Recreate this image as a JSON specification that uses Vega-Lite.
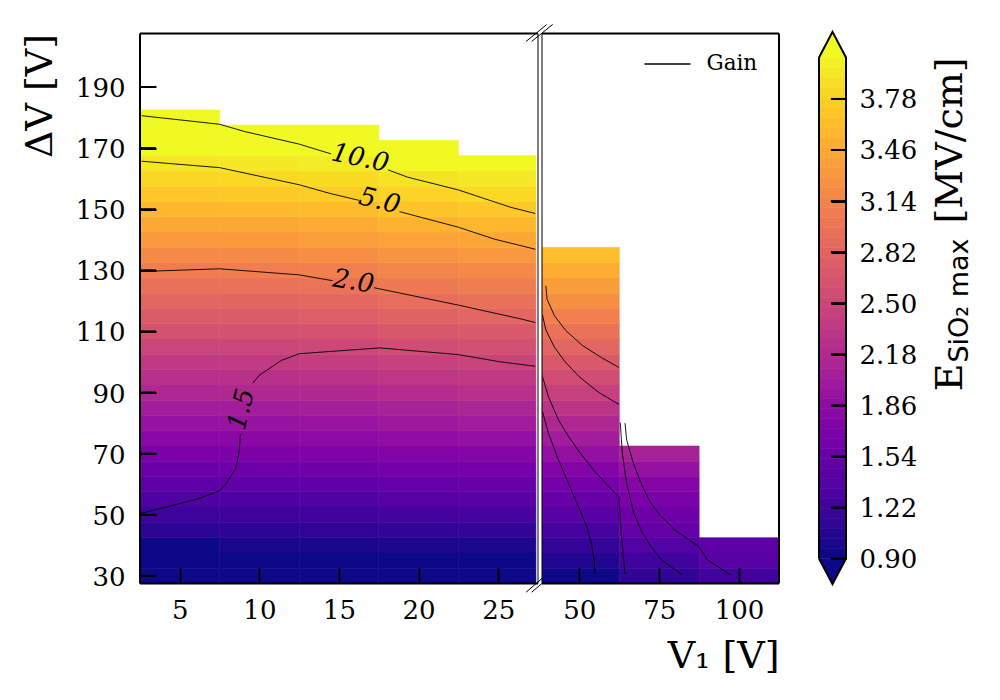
{"$schema":"https://vega.github.io/schema/vega-lite/v6.json","background":"white","autosize":{"type":"pad"},"padding":{"left":21,"top":23.5,"right":5,"bottom":5},
"config":{"view":{"stroke":null},"axis":{"labelFont":"DejaVu Serif","titleFont":"DejaVu Serif","labelFontSize":26,"titleFontSize":38,"titleFontWeight":"normal","labelColor":"black","titleColor":"black","tickColor":"black","tickWidth":2,"tickSize":-16,"domain":false,"grid":false}},
"datasets":{
"left":[
{"V1lo":2.5,"V1hi":7.5,"dVlo":27.5,"dVhi":32.5,"E":0.9},{"V1lo":2.5,"V1hi":7.5,"dVlo":32.5,"dVhi":37.5,"E":0.9},{"V1lo":2.5,"V1hi":7.5,"dVlo":37.5,"dVhi":42.5,"E":0.9},{"V1lo":2.5,"V1hi":7.5,"dVlo":42.5,"dVhi":47.5,"E":1.07},{"V1lo":2.5,"V1hi":7.5,"dVlo":47.5,"dVhi":52.5,"E":1.18},{"V1lo":2.5,"V1hi":7.5,"dVlo":52.5,"dVhi":57.5,"E":1.3},{"V1lo":2.5,"V1hi":7.5,"dVlo":57.5,"dVhi":62.5,"E":1.42},{"V1lo":2.5,"V1hi":7.5,"dVlo":62.5,"dVhi":67.5,"E":1.54},{"V1lo":2.5,"V1hi":7.5,"dVlo":67.5,"dVhi":72.5,"E":1.66},{"V1lo":2.5,"V1hi":7.5,"dVlo":72.5,"dVhi":77.5,"E":1.78},{"V1lo":2.5,"V1hi":7.5,"dVlo":77.5,"dVhi":82.5,"E":1.89},{"V1lo":2.5,"V1hi":7.5,"dVlo":82.5,"dVhi":87.5,"E":2.0},{"V1lo":2.5,"V1hi":7.5,"dVlo":87.5,"dVhi":92.5,"E":2.12},{"V1lo":2.5,"V1hi":7.5,"dVlo":92.5,"dVhi":97.5,"E":2.22},{"V1lo":2.5,"V1hi":7.5,"dVlo":97.5,"dVhi":102.5,"E":2.33},{"V1lo":2.5,"V1hi":7.5,"dVlo":102.5,"dVhi":107.5,"E":2.45},{"V1lo":2.5,"V1hi":7.5,"dVlo":107.5,"dVhi":112.5,"E":2.57},{"V1lo":2.5,"V1hi":7.5,"dVlo":112.5,"dVhi":117.5,"E":2.69},{"V1lo":2.5,"V1hi":7.5,"dVlo":117.5,"dVhi":122.5,"E":2.8},{"V1lo":2.5,"V1hi":7.5,"dVlo":122.5,"dVhi":127.5,"E":2.92},{"V1lo":2.5,"V1hi":7.5,"dVlo":127.5,"dVhi":132.5,"E":3.04},{"V1lo":2.5,"V1hi":7.5,"dVlo":132.5,"dVhi":137.5,"E":3.17},{"V1lo":2.5,"V1hi":7.5,"dVlo":137.5,"dVhi":142.5,"E":3.3},{"V1lo":2.5,"V1hi":7.5,"dVlo":142.5,"dVhi":147.5,"E":3.43},{"V1lo":2.5,"V1hi":7.5,"dVlo":147.5,"dVhi":152.5,"E":3.56},{"V1lo":2.5,"V1hi":7.5,"dVlo":152.5,"dVhi":157.5,"E":3.68},{"V1lo":2.5,"V1hi":7.5,"dVlo":157.5,"dVhi":162.5,"E":3.79},{"V1lo":2.5,"V1hi":7.5,"dVlo":162.5,"dVhi":167.5,"E":3.91},{"V1lo":2.5,"V1hi":7.5,"dVlo":167.5,"dVhi":172.5,"E":4.1},{"V1lo":2.5,"V1hi":7.5,"dVlo":172.5,"dVhi":177.5,"E":4.1},{"V1lo":2.5,"V1hi":7.5,"dVlo":177.5,"dVhi":182.5,"E":4.1},
{"V1lo":7.5,"V1hi":12.5,"dVlo":27.5,"dVhi":32.5,"E":0.9},{"V1lo":7.5,"V1hi":12.5,"dVlo":32.5,"dVhi":37.5,"E":0.9},{"V1lo":7.5,"V1hi":12.5,"dVlo":37.5,"dVhi":42.5,"E":0.96},{"V1lo":7.5,"V1hi":12.5,"dVlo":42.5,"dVhi":47.5,"E":1.07},{"V1lo":7.5,"V1hi":12.5,"dVlo":47.5,"dVhi":52.5,"E":1.19},{"V1lo":7.5,"V1hi":12.5,"dVlo":52.5,"dVhi":57.5,"E":1.31},{"V1lo":7.5,"V1hi":12.5,"dVlo":57.5,"dVhi":62.5,"E":1.43},{"V1lo":7.5,"V1hi":12.5,"dVlo":62.5,"dVhi":67.5,"E":1.55},{"V1lo":7.5,"V1hi":12.5,"dVlo":67.5,"dVhi":72.5,"E":1.67},{"V1lo":7.5,"V1hi":12.5,"dVlo":72.5,"dVhi":77.5,"E":1.79},{"V1lo":7.5,"V1hi":12.5,"dVlo":77.5,"dVhi":82.5,"E":1.9},{"V1lo":7.5,"V1hi":12.5,"dVlo":82.5,"dVhi":87.5,"E":2.01},{"V1lo":7.5,"V1hi":12.5,"dVlo":87.5,"dVhi":92.5,"E":2.13},{"V1lo":7.5,"V1hi":12.5,"dVlo":92.5,"dVhi":97.5,"E":2.23},{"V1lo":7.5,"V1hi":12.5,"dVlo":97.5,"dVhi":102.5,"E":2.34},{"V1lo":7.5,"V1hi":12.5,"dVlo":102.5,"dVhi":107.5,"E":2.46},{"V1lo":7.5,"V1hi":12.5,"dVlo":107.5,"dVhi":112.5,"E":2.58},{"V1lo":7.5,"V1hi":12.5,"dVlo":112.5,"dVhi":117.5,"E":2.7},{"V1lo":7.5,"V1hi":12.5,"dVlo":117.5,"dVhi":122.5,"E":2.81},{"V1lo":7.5,"V1hi":12.5,"dVlo":122.5,"dVhi":127.5,"E":2.93},{"V1lo":7.5,"V1hi":12.5,"dVlo":127.5,"dVhi":132.5,"E":3.05},{"V1lo":7.5,"V1hi":12.5,"dVlo":132.5,"dVhi":137.5,"E":3.18},{"V1lo":7.5,"V1hi":12.5,"dVlo":137.5,"dVhi":142.5,"E":3.31},{"V1lo":7.5,"V1hi":12.5,"dVlo":142.5,"dVhi":147.5,"E":3.44},{"V1lo":7.5,"V1hi":12.5,"dVlo":147.5,"dVhi":152.5,"E":3.57},{"V1lo":7.5,"V1hi":12.5,"dVlo":152.5,"dVhi":157.5,"E":3.69},{"V1lo":7.5,"V1hi":12.5,"dVlo":157.5,"dVhi":162.5,"E":3.8},{"V1lo":7.5,"V1hi":12.5,"dVlo":162.5,"dVhi":167.5,"E":3.93},{"V1lo":7.5,"V1hi":12.5,"dVlo":167.5,"dVhi":172.5,"E":4.1},{"V1lo":7.5,"V1hi":12.5,"dVlo":172.5,"dVhi":177.5,"E":4.1},
{"V1lo":12.5,"V1hi":17.5,"dVlo":27.5,"dVhi":32.5,"E":0.9},{"V1lo":12.5,"V1hi":17.5,"dVlo":32.5,"dVhi":37.5,"E":0.9},{"V1lo":12.5,"V1hi":17.5,"dVlo":37.5,"dVhi":42.5,"E":0.96},{"V1lo":12.5,"V1hi":17.5,"dVlo":42.5,"dVhi":47.5,"E":1.09},{"V1lo":12.5,"V1hi":17.5,"dVlo":47.5,"dVhi":52.5,"E":1.21},{"V1lo":12.5,"V1hi":17.5,"dVlo":52.5,"dVhi":57.5,"E":1.33},{"V1lo":12.5,"V1hi":17.5,"dVlo":57.5,"dVhi":62.5,"E":1.45},{"V1lo":12.5,"V1hi":17.5,"dVlo":62.5,"dVhi":67.5,"E":1.57},{"V1lo":12.5,"V1hi":17.5,"dVlo":67.5,"dVhi":72.5,"E":1.69},{"V1lo":12.5,"V1hi":17.5,"dVlo":72.5,"dVhi":77.5,"E":1.81},{"V1lo":12.5,"V1hi":17.5,"dVlo":77.5,"dVhi":82.5,"E":1.92},{"V1lo":12.5,"V1hi":17.5,"dVlo":82.5,"dVhi":87.5,"E":2.03},{"V1lo":12.5,"V1hi":17.5,"dVlo":87.5,"dVhi":92.5,"E":2.15},{"V1lo":12.5,"V1hi":17.5,"dVlo":92.5,"dVhi":97.5,"E":2.25},{"V1lo":12.5,"V1hi":17.5,"dVlo":97.5,"dVhi":102.5,"E":2.36},{"V1lo":12.5,"V1hi":17.5,"dVlo":102.5,"dVhi":107.5,"E":2.48},{"V1lo":12.5,"V1hi":17.5,"dVlo":107.5,"dVhi":112.5,"E":2.6},{"V1lo":12.5,"V1hi":17.5,"dVlo":112.5,"dVhi":117.5,"E":2.72},{"V1lo":12.5,"V1hi":17.5,"dVlo":117.5,"dVhi":122.5,"E":2.83},{"V1lo":12.5,"V1hi":17.5,"dVlo":122.5,"dVhi":127.5,"E":2.95},{"V1lo":12.5,"V1hi":17.5,"dVlo":127.5,"dVhi":132.5,"E":3.07},{"V1lo":12.5,"V1hi":17.5,"dVlo":132.5,"dVhi":137.5,"E":3.2},{"V1lo":12.5,"V1hi":17.5,"dVlo":137.5,"dVhi":142.5,"E":3.33},{"V1lo":12.5,"V1hi":17.5,"dVlo":142.5,"dVhi":147.5,"E":3.46},{"V1lo":12.5,"V1hi":17.5,"dVlo":147.5,"dVhi":152.5,"E":3.59},{"V1lo":12.5,"V1hi":17.5,"dVlo":152.5,"dVhi":157.5,"E":3.71},{"V1lo":12.5,"V1hi":17.5,"dVlo":157.5,"dVhi":162.5,"E":3.82},{"V1lo":12.5,"V1hi":17.5,"dVlo":162.5,"dVhi":167.5,"E":3.95},{"V1lo":12.5,"V1hi":17.5,"dVlo":167.5,"dVhi":172.5,"E":4.1},{"V1lo":12.5,"V1hi":17.5,"dVlo":172.5,"dVhi":177.5,"E":4.1},
{"V1lo":17.5,"V1hi":22.5,"dVlo":27.5,"dVhi":32.5,"E":0.9},{"V1lo":17.5,"V1hi":22.5,"dVlo":32.5,"dVhi":37.5,"E":0.9},{"V1lo":17.5,"V1hi":22.5,"dVlo":37.5,"dVhi":42.5,"E":0.97},{"V1lo":17.5,"V1hi":22.5,"dVlo":42.5,"dVhi":47.5,"E":1.1},{"V1lo":17.5,"V1hi":22.5,"dVlo":47.5,"dVhi":52.5,"E":1.23},{"V1lo":17.5,"V1hi":22.5,"dVlo":52.5,"dVhi":57.5,"E":1.36},{"V1lo":17.5,"V1hi":22.5,"dVlo":57.5,"dVhi":62.5,"E":1.48},{"V1lo":17.5,"V1hi":22.5,"dVlo":62.5,"dVhi":67.5,"E":1.6},{"V1lo":17.5,"V1hi":22.5,"dVlo":67.5,"dVhi":72.5,"E":1.72},{"V1lo":17.5,"V1hi":22.5,"dVlo":72.5,"dVhi":77.5,"E":1.84},{"V1lo":17.5,"V1hi":22.5,"dVlo":77.5,"dVhi":82.5,"E":1.96},{"V1lo":17.5,"V1hi":22.5,"dVlo":82.5,"dVhi":87.5,"E":2.07},{"V1lo":17.5,"V1hi":22.5,"dVlo":87.5,"dVhi":92.5,"E":2.19},{"V1lo":17.5,"V1hi":22.5,"dVlo":92.5,"dVhi":97.5,"E":2.3},{"V1lo":17.5,"V1hi":22.5,"dVlo":97.5,"dVhi":102.5,"E":2.41},{"V1lo":17.5,"V1hi":22.5,"dVlo":102.5,"dVhi":107.5,"E":2.53},{"V1lo":17.5,"V1hi":22.5,"dVlo":107.5,"dVhi":112.5,"E":2.65},{"V1lo":17.5,"V1hi":22.5,"dVlo":112.5,"dVhi":117.5,"E":2.77},{"V1lo":17.5,"V1hi":22.5,"dVlo":117.5,"dVhi":122.5,"E":2.88},{"V1lo":17.5,"V1hi":22.5,"dVlo":122.5,"dVhi":127.5,"E":3.0},{"V1lo":17.5,"V1hi":22.5,"dVlo":127.5,"dVhi":132.5,"E":3.12},{"V1lo":17.5,"V1hi":22.5,"dVlo":132.5,"dVhi":137.5,"E":3.25},{"V1lo":17.5,"V1hi":22.5,"dVlo":137.5,"dVhi":142.5,"E":3.38},{"V1lo":17.5,"V1hi":22.5,"dVlo":142.5,"dVhi":147.5,"E":3.52},{"V1lo":17.5,"V1hi":22.5,"dVlo":147.5,"dVhi":152.5,"E":3.65},{"V1lo":17.5,"V1hi":22.5,"dVlo":152.5,"dVhi":157.5,"E":3.77},{"V1lo":17.5,"V1hi":22.5,"dVlo":157.5,"dVhi":162.5,"E":3.88},{"V1lo":17.5,"V1hi":22.5,"dVlo":162.5,"dVhi":167.5,"E":4.1},{"V1lo":17.5,"V1hi":22.5,"dVlo":167.5,"dVhi":172.5,"E":4.1},
{"V1lo":22.5,"V1hi":27.37,"dVlo":27.5,"dVhi":32.5,"E":0.9},{"V1lo":22.5,"V1hi":27.37,"dVlo":32.5,"dVhi":37.5,"E":0.9},{"V1lo":22.5,"V1hi":27.37,"dVlo":37.5,"dVhi":42.5,"E":0.97},{"V1lo":22.5,"V1hi":27.37,"dVlo":42.5,"dVhi":47.5,"E":1.11},{"V1lo":22.5,"V1hi":27.37,"dVlo":47.5,"dVhi":52.5,"E":1.25},{"V1lo":22.5,"V1hi":27.37,"dVlo":52.5,"dVhi":57.5,"E":1.38},{"V1lo":22.5,"V1hi":27.37,"dVlo":57.5,"dVhi":62.5,"E":1.5},{"V1lo":22.5,"V1hi":27.37,"dVlo":62.5,"dVhi":67.5,"E":1.62},{"V1lo":22.5,"V1hi":27.37,"dVlo":67.5,"dVhi":72.5,"E":1.75},{"V1lo":22.5,"V1hi":27.37,"dVlo":72.5,"dVhi":77.5,"E":1.87},{"V1lo":22.5,"V1hi":27.37,"dVlo":77.5,"dVhi":82.5,"E":1.99},{"V1lo":22.5,"V1hi":27.37,"dVlo":82.5,"dVhi":87.5,"E":2.1},{"V1lo":22.5,"V1hi":27.37,"dVlo":87.5,"dVhi":92.5,"E":2.22},{"V1lo":22.5,"V1hi":27.37,"dVlo":92.5,"dVhi":97.5,"E":2.33},{"V1lo":22.5,"V1hi":27.37,"dVlo":97.5,"dVhi":102.5,"E":2.44},{"V1lo":22.5,"V1hi":27.37,"dVlo":102.5,"dVhi":107.5,"E":2.56},{"V1lo":22.5,"V1hi":27.37,"dVlo":107.5,"dVhi":112.5,"E":2.68},{"V1lo":22.5,"V1hi":27.37,"dVlo":112.5,"dVhi":117.5,"E":2.8},{"V1lo":22.5,"V1hi":27.37,"dVlo":117.5,"dVhi":122.5,"E":2.92},{"V1lo":22.5,"V1hi":27.37,"dVlo":122.5,"dVhi":127.5,"E":3.04},{"V1lo":22.5,"V1hi":27.37,"dVlo":127.5,"dVhi":132.5,"E":3.16},{"V1lo":22.5,"V1hi":27.37,"dVlo":132.5,"dVhi":137.5,"E":3.29},{"V1lo":22.5,"V1hi":27.37,"dVlo":137.5,"dVhi":142.5,"E":3.42},{"V1lo":22.5,"V1hi":27.37,"dVlo":142.5,"dVhi":147.5,"E":3.55},{"V1lo":22.5,"V1hi":27.37,"dVlo":147.5,"dVhi":152.5,"E":3.68},{"V1lo":22.5,"V1hi":27.37,"dVlo":152.5,"dVhi":157.5,"E":3.8},{"V1lo":22.5,"V1hi":27.37,"dVlo":157.5,"dVhi":162.5,"E":3.93},{"V1lo":22.5,"V1hi":27.37,"dVlo":162.5,"dVhi":167.5,"E":4.1}
],
"right":[
{"V1lo":37.5,"V1hi":62.5,"dVlo":27.5,"dVhi":32.5,"E":0.9},{"V1lo":37.5,"V1hi":62.5,"dVlo":32.5,"dVhi":37.5,"E":1.0},{"V1lo":37.5,"V1hi":62.5,"dVlo":37.5,"dVhi":42.5,"E":1.12},{"V1lo":37.5,"V1hi":62.5,"dVlo":42.5,"dVhi":47.5,"E":1.25},{"V1lo":37.5,"V1hi":62.5,"dVlo":47.5,"dVhi":52.5,"E":1.38},{"V1lo":37.5,"V1hi":62.5,"dVlo":52.5,"dVhi":57.5,"E":1.5},{"V1lo":37.5,"V1hi":62.5,"dVlo":57.5,"dVhi":62.5,"E":1.62},{"V1lo":37.5,"V1hi":62.5,"dVlo":62.5,"dVhi":67.5,"E":1.74},{"V1lo":37.5,"V1hi":62.5,"dVlo":67.5,"dVhi":72.5,"E":1.87},{"V1lo":37.5,"V1hi":62.5,"dVlo":72.5,"dVhi":77.5,"E":2.0},{"V1lo":37.5,"V1hi":62.5,"dVlo":77.5,"dVhi":82.5,"E":2.13},{"V1lo":37.5,"V1hi":62.5,"dVlo":82.5,"dVhi":87.5,"E":2.27},{"V1lo":37.5,"V1hi":62.5,"dVlo":87.5,"dVhi":92.5,"E":2.4},{"V1lo":37.5,"V1hi":62.5,"dVlo":92.5,"dVhi":97.5,"E":2.53},{"V1lo":37.5,"V1hi":62.5,"dVlo":97.5,"dVhi":102.5,"E":2.66},{"V1lo":37.5,"V1hi":62.5,"dVlo":102.5,"dVhi":107.5,"E":2.8},{"V1lo":37.5,"V1hi":62.5,"dVlo":107.5,"dVhi":112.5,"E":2.93},{"V1lo":37.5,"V1hi":62.5,"dVlo":112.5,"dVhi":117.5,"E":3.07},{"V1lo":37.5,"V1hi":62.5,"dVlo":117.5,"dVhi":122.5,"E":3.2},{"V1lo":37.5,"V1hi":62.5,"dVlo":122.5,"dVhi":127.5,"E":3.33},{"V1lo":37.5,"V1hi":62.5,"dVlo":127.5,"dVhi":132.5,"E":3.47},{"V1lo":37.5,"V1hi":62.5,"dVlo":132.5,"dVhi":137.5,"E":3.6},
{"V1lo":62.5,"V1hi":87.5,"dVlo":27.5,"dVhi":32.5,"E":1.09},{"V1lo":62.5,"V1hi":87.5,"dVlo":32.5,"dVhi":37.5,"E":1.21},{"V1lo":62.5,"V1hi":87.5,"dVlo":37.5,"dVhi":42.5,"E":1.34},{"V1lo":62.5,"V1hi":87.5,"dVlo":42.5,"dVhi":47.5,"E":1.47},{"V1lo":62.5,"V1hi":87.5,"dVlo":47.5,"dVhi":52.5,"E":1.56},{"V1lo":62.5,"V1hi":87.5,"dVlo":52.5,"dVhi":57.5,"E":1.65},{"V1lo":62.5,"V1hi":87.5,"dVlo":57.5,"dVhi":62.5,"E":1.75},{"V1lo":62.5,"V1hi":87.5,"dVlo":62.5,"dVhi":67.5,"E":1.88},{"V1lo":62.5,"V1hi":87.5,"dVlo":67.5,"dVhi":72.5,"E":2.06},
{"V1lo":87.5,"V1hi":112.5,"dVlo":27.5,"dVhi":32.5,"E":1.2},{"V1lo":87.5,"V1hi":112.5,"dVlo":32.5,"dVhi":37.5,"E":1.38},{"V1lo":87.5,"V1hi":112.5,"dVlo":37.5,"dVhi":42.5,"E":1.42}
],
"contourLeft":[
{"seg":"10a","V1":2.6,"dV":180.6},{"seg":"10a","V1":7.5,"dV":177.8},{"seg":"10a","V1":9.08,"dV":175.4},{"seg":"10a","V1":12.5,"dV":171.3},{"seg":"10a","V1":14.5,"dV":168.1},
{"seg":"10b","V1":18.07,"dV":162.9},{"seg":"10b","V1":19.3,"dV":160.5},{"seg":"10b","V1":22.5,"dV":156.3},{"seg":"10b","V1":25.8,"dV":150.6},{"seg":"10b","V1":27.33,"dV":148.6},
{"seg":"5a","V1":2.6,"dV":165.7},{"seg":"5a","V1":7.5,"dV":163.6},{"seg":"5a","V1":12.5,"dV":158.0},{"seg":"5a","V1":14.4,"dV":155.2},{"seg":"5a","V1":16.25,"dV":152.9},
{"seg":"5b","V1":18.8,"dV":149.2},{"seg":"5b","V1":22.5,"dV":144.1},{"seg":"5b","V1":24.76,"dV":140.2},{"seg":"5b","V1":27.33,"dV":136.9},
{"seg":"2a","V1":2.6,"dV":129.6},{"seg":"2a","V1":7.5,"dV":130.5},{"seg":"2a","V1":12.5,"dV":128.5},{"seg":"2a","V1":14.6,"dV":126.6},
{"seg":"2b","V1":17.2,"dV":124.3},{"seg":"2b","V1":22.5,"dV":118.6},{"seg":"2b","V1":26.5,"dV":114.0},{"seg":"2b","V1":27.33,"dV":112.9},
{"seg":"1.5a","V1":2.6,"dV":50.5},{"seg":"1.5a","V1":6.16,"dV":55.2},{"seg":"1.5a","V1":7.5,"dV":57.9},{"seg":"1.5a","V1":7.93,"dV":60.3},{"seg":"1.5a","V1":8.52,"dV":65.2},{"seg":"1.5a","V1":8.73,"dV":70.7},{"seg":"1.5a","V1":8.81,"dV":76.4},
{"seg":"1.5b","V1":9.6,"dV":93.1},{"seg":"1.5b","V1":9.98,"dV":95.6},{"seg":"1.5b","V1":11.38,"dV":100.5},{"seg":"1.5b","V1":12.5,"dV":102.7},{"seg":"1.5b","V1":17.55,"dV":104.6},{"seg":"1.5b","V1":22.5,"dV":102.4},{"seg":"1.5b","V1":25.07,"dV":100.1},{"seg":"1.5b","V1":27.33,"dV":98.6}
],
"contourRight":[
{"name":"Gain","seg":"A","V1":39.49,"dV":124.9},{"name":"Gain","seg":"A","V1":39.9,"dV":120.5},{"name":"Gain","seg":"A","V1":42.2,"dV":115.1},{"name":"Gain","seg":"A","V1":45.74,"dV":110.3},{"name":"Gain","seg":"A","V1":50.95,"dV":105.4},{"name":"Gain","seg":"A","V1":56.99,"dV":101.4},{"name":"Gain","seg":"A","V1":62.4,"dV":98.2},
{"name":"Gain","seg":"B","V1":38.45,"dV":115.4},{"name":"Gain","seg":"B","V1":39.5,"dV":110.5},{"name":"Gain","seg":"B","V1":42.2,"dV":104.8},{"name":"Gain","seg":"B","V1":45.5,"dV":100.1},{"name":"Gain","seg":"B","V1":49.9,"dV":95.2},{"name":"Gain","seg":"B","V1":55.95,"dV":90.1},{"name":"Gain","seg":"B","V1":62.4,"dV":86.1},
{"name":"Gain","seg":"C","V1":38.45,"dV":95.2},{"name":"Gain","seg":"C","V1":40.3,"dV":88.7},{"name":"Gain","seg":"C","V1":43.45,"dV":81.0},{"name":"Gain","seg":"C","V1":46.6,"dV":75.6},{"name":"Gain","seg":"C","V1":50.7,"dV":69.6},{"name":"Gain","seg":"C","V1":54.9,"dV":64.1},{"name":"Gain","seg":"C","V1":62.4,"dV":55.7},{"name":"Gain","seg":"C","V1":63.0,"dV":45.0},{"name":"Gain","seg":"C","V1":64.3,"dV":30.5},
{"name":"Gain","seg":"D","V1":38.45,"dV":83.8},{"name":"Gain","seg":"D","V1":40.3,"dV":76.7},{"name":"Gain","seg":"D","V1":43.45,"dV":68.0},{"name":"Gain","seg":"D","V1":46.6,"dV":60.3},{"name":"Gain","seg":"D","V1":49.7,"dV":52.7},{"name":"Gain","seg":"D","V1":52.3,"dV":46.1},{"name":"Gain","seg":"D","V1":53.9,"dV":40.1},{"name":"Gain","seg":"D","V1":54.6,"dV":35.2},{"name":"Gain","seg":"D","V1":54.9,"dV":30.5},
{"name":"Gain","seg":"E","V1":62.8,"dV":80.2},{"name":"Gain","seg":"E","V1":63.45,"dV":70.1},{"name":"Gain","seg":"E","V1":64.8,"dV":60.3},{"name":"Gain","seg":"E","V1":66.9,"dV":51.0},{"name":"Gain","seg":"E","V1":69.5,"dV":44.5},{"name":"Gain","seg":"E","V1":72.1,"dV":40.1},{"name":"Gain","seg":"E","V1":75.7,"dV":35.2},{"name":"Gain","seg":"E","V1":82.0,"dV":30.5},
{"name":"Gain","seg":"F","V1":64.3,"dV":80.0},{"name":"Gain","seg":"F","V1":64.8,"dV":74.5},{"name":"Gain","seg":"F","V1":66.9,"dV":66.9},{"name":"Gain","seg":"F","V1":69.5,"dV":59.8},{"name":"Gain","seg":"F","V1":72.1,"dV":54.3},{"name":"Gain","seg":"F","V1":75.2,"dV":49.9},{"name":"Gain","seg":"F","V1":79.9,"dV":45.0},{"name":"Gain","seg":"F","V1":87.4,"dV":39.6},{"name":"Gain","seg":"F","V1":90.1,"dV":35.2},{"name":"Gain","seg":"F","V1":97.4,"dV":30.3}
],
"breaks":[
{"x":26.75,"x2":28.05,"y":204.9,"y2":210.45},{"x":27.1,"x2":28.42,"y":204.9,"y2":210.45},{"x":26.75,"x2":28.05,"y":24.65,"y2":30.45},{"x":27.1,"x2":28.42,"y":24.65,"y2":30.45}
],
"yTicks":[
{"tick":30,"V1":2.5,"dV":30},{"tick":30,"V1":3.5,"dV":30},{"tick":50,"V1":2.5,"dV":50},{"tick":50,"V1":3.5,"dV":50},{"tick":70,"V1":2.5,"dV":70},{"tick":70,"V1":3.5,"dV":70},{"tick":90,"V1":2.5,"dV":90},{"tick":90,"V1":3.5,"dV":90},{"tick":110,"V1":2.5,"dV":110},{"tick":110,"V1":3.5,"dV":110},{"tick":130,"V1":2.5,"dV":130},{"tick":130,"V1":3.5,"dV":130},{"tick":150,"V1":2.5,"dV":150},{"tick":150,"V1":3.5,"dV":150},{"tick":170,"V1":2.5,"dV":170},{"tick":170,"V1":3.5,"dV":170},{"tick":190,"V1":2.5,"dV":190},{"tick":190,"V1":3.5,"dV":190}
],
"cbar":[
{"lo":0.9,"hi":0.963},{"lo":0.963,"hi":1.026},{"lo":1.026,"hi":1.088},{"lo":1.088,"hi":1.151},{"lo":1.151,"hi":1.214},{"lo":1.214,"hi":1.277},{"lo":1.277,"hi":1.34},{"lo":1.34,"hi":1.402},{"lo":1.402,"hi":1.465},{"lo":1.465,"hi":1.528},{"lo":1.528,"hi":1.591},{"lo":1.591,"hi":1.654},{"lo":1.654,"hi":1.716},{"lo":1.716,"hi":1.779},{"lo":1.779,"hi":1.842},{"lo":1.842,"hi":1.905},{"lo":1.905,"hi":1.968},{"lo":1.968,"hi":2.03},{"lo":2.03,"hi":2.093},{"lo":2.093,"hi":2.156},{"lo":2.156,"hi":2.219},{"lo":2.219,"hi":2.282},{"lo":2.282,"hi":2.344},{"lo":2.344,"hi":2.407},{"lo":2.407,"hi":2.47},{"lo":2.47,"hi":2.533},{"lo":2.533,"hi":2.596},{"lo":2.596,"hi":2.658},{"lo":2.658,"hi":2.721},{"lo":2.721,"hi":2.784},{"lo":2.784,"hi":2.847},{"lo":2.847,"hi":2.91},{"lo":2.91,"hi":2.972},{"lo":2.972,"hi":3.035},{"lo":3.035,"hi":3.098},{"lo":3.098,"hi":3.161},{"lo":3.161,"hi":3.224},{"lo":3.224,"hi":3.286},{"lo":3.286,"hi":3.349},{"lo":3.349,"hi":3.412},{"lo":3.412,"hi":3.475},{"lo":3.475,"hi":3.538},{"lo":3.538,"hi":3.6},{"lo":3.6,"hi":3.663},{"lo":3.663,"hi":3.726},{"lo":3.726,"hi":3.789},{"lo":3.789,"hi":3.852},{"lo":3.852,"hi":3.914},{"lo":3.914,"hi":3.977},{"lo":3.977,"hi":4.04}
],
"tips":[
{"E":4.04,"x":0,"x2":1,"y":4.04},{"E":4.04,"x":0.5,"x2":0.5,"y":4.2},{"E":0.9,"x":0,"x2":1,"y":0.9},{"E":0.9,"x":0.5,"x2":0.5,"y":0.74}
],
"outline":[
{"i":0,"x":0,"y":0.9},{"i":1,"x":0.5,"y":0.74},{"i":2,"x":1,"y":0.9},{"i":3,"x":1,"y":4.04},{"i":4,"x":0.5,"y":4.2},{"i":5,"x":0,"y":4.04},{"i":6,"x":0,"y":0.9}
],
"cbarTicks":[
{"tick":0.9,"x":0.44,"y":0.9},{"tick":0.9,"x":1,"y":0.9},{"tick":1.22,"x":0.44,"y":1.22},{"tick":1.22,"x":1,"y":1.22},{"tick":1.54,"x":0.44,"y":1.54},{"tick":1.54,"x":1,"y":1.54},{"tick":1.86,"x":0.44,"y":1.86},{"tick":1.86,"x":1,"y":1.86},{"tick":2.18,"x":0.44,"y":2.18},{"tick":2.18,"x":1,"y":2.18},{"tick":2.5,"x":0.44,"y":2.5},{"tick":2.5,"x":1,"y":2.5},{"tick":2.82,"x":0.44,"y":2.82},{"tick":2.82,"x":1,"y":2.82},{"tick":3.14,"x":0.44,"y":3.14},{"tick":3.14,"x":1,"y":3.14},{"tick":3.46,"x":0.44,"y":3.46},{"tick":3.46,"x":1,"y":3.46},{"tick":3.78,"x":0.44,"y":3.78},{"tick":3.78,"x":1,"y":3.78}
]
},
"hconcat":[
{"bounds":"flush","hconcat":[
{"width":398,"height":550,"layer":[
{"data":{"name":"left"},"mark":{"type":"rect","strokeWidth":0.6},"encoding":{"x":{"field":"V1lo","type":"quantitative","scale":{"domain":[2.5,27.5],"nice":false,"zero":false},"axis":{"title":null,"values":[5,10,15,20,25],"labelPadding":30,"zindex":1}},"x2":{"field":"V1hi"},"y":{"field":"dVlo","type":"quantitative","scale":{"domain":[27.5,207.5],"nice":false,"zero":false},"axis":{"title":"ΔV [V]","titleAnchor":"end","values":[30,50,70,90,110,130,150,170,190],"labelPadding":31,"labelOffset":1.5,"titlePadding":16,"zindex":1}},"y2":{"field":"dVhi"},"color":{"field":"E","type":"quantitative","scale":{"scheme":"plasma","domain":[0.9,4.04],"clamp":true},"legend":null},"stroke":{"field":"E","type":"quantitative","scale":{"scheme":"plasma","domain":[0.9,4.04],"clamp":true},"legend":null}}},
{"data":{"name":"contourLeft"},"mark":{"type":"line","color":"black","strokeWidth":0.9},"encoding":{"x":{"field":"V1","type":"quantitative"},"y":{"field":"dV","type":"quantitative"},"detail":{"field":"seg"}}},
{"data":{"name":"yTicks"},"mark":{"type":"line","color":"black","strokeWidth":2},"encoding":{"x":{"field":"V1","type":"quantitative"},"y":{"field":"dV","type":"quantitative"},"detail":{"field":"tick"}}},
{"data":{"values":[{"V1":16.34,"dV":166.7,"label":"10.0"}]},"mark":{"type":"text","font":"DejaVu Serif","fontStyle":"italic","fontSize":26,"angle":12,"color":"black"},"encoding":{"x":{"field":"V1","type":"quantitative"},"y":{"field":"dV","type":"quantitative"},"text":{"field":"label"}}},
{"data":{"values":[{"V1":17.55,"dV":152.7,"label":"5.0"}]},"mark":{"type":"text","font":"DejaVu Serif","fontStyle":"italic","fontSize":26,"angle":14,"color":"black"},"encoding":{"x":{"field":"V1","type":"quantitative"},"y":{"field":"dV","type":"quantitative"},"text":{"field":"label"}}},
{"data":{"values":[{"V1":15.9,"dV":126.3,"label":"2.0"}]},"mark":{"type":"text","font":"DejaVu Serif","fontStyle":"italic","fontSize":26,"angle":9,"color":"black"},"encoding":{"x":{"field":"V1","type":"quantitative"},"y":{"field":"dV","type":"quantitative"},"text":{"field":"label"}}},
{"data":{"values":[{"V1":8.87,"dV":84.5,"label":"1.5"}]},"mark":{"type":"text","font":"DejaVu Serif","fontStyle":"italic","fontSize":26,"angle":284,"color":"black"},"encoding":{"x":{"field":"V1","type":"quantitative"},"y":{"field":"dV","type":"quantitative"},"text":{"field":"label"}}},
{"data":{"values":[{}]},"mark":{"type":"rule","color":"black","strokeWidth":2},"encoding":{"y":{"datum":27.5,"type":"quantitative"}}},
{"data":{"values":[{}]},"mark":{"type":"rule","color":"black","strokeWidth":2},"encoding":{"y":{"datum":207.5,"type":"quantitative"}}},
{"data":{"values":[{}]},"mark":{"type":"rule","color":"black","strokeWidth":2},"encoding":{"x":{"datum":2.5,"type":"quantitative"}}},
{"data":{"values":[{}]},"mark":{"type":"rule","color":"black","strokeWidth":1},"encoding":{"x":{"datum":27.5,"type":"quantitative"}}},
{"data":{"name":"breaks"},"mark":{"type":"rule","color":"black","strokeWidth":1},"encoding":{"x":{"field":"x","type":"quantitative"},"x2":{"field":"x2"},"y":{"field":"y","type":"quantitative"},"y2":{"field":"y2"}}}
]},
{"width":237,"height":550,"resolve":{"scale":{"stroke":"independent"}},"layer":[
{"data":{"name":"right"},"mark":{"type":"rect","clip":true,"strokeWidth":0.6},"encoding":{"x":{"field":"V1lo","type":"quantitative","scale":{"domain":[38.3,112.5],"nice":false,"zero":false},"axis":{"title":"V₁ [V]","titleAnchor":"end","values":[50,75,100],"labelPadding":30,"titlePadding":14,"zindex":1}},"x2":{"field":"V1hi"},"y":{"field":"dVlo","type":"quantitative","scale":{"domain":[27.5,207.5],"nice":false,"zero":false},"axis":null},"y2":{"field":"dVhi"},"color":{"field":"E","type":"quantitative","scale":{"scheme":"plasma","domain":[0.9,4.04],"clamp":true},"legend":null},"stroke":{"field":"E","type":"quantitative","scale":{"scheme":"plasma","domain":[0.9,4.04],"clamp":true},"legend":null}}},
{"data":{"name":"contourRight"},"mark":{"type":"line","strokeWidth":0.9},"encoding":{"x":{"field":"V1","type":"quantitative"},"y":{"field":"dV","type":"quantitative"},"detail":{"field":"seg"},"stroke":{"field":"name","type":"nominal","scale":{"range":["black"]},"legend":{"title":null,"orient":"none","legendX":101.5,"legendY":6.5,"symbolType":"stroke","symbolSize":2116,"symbolStrokeWidth":1.3,"labelFont":"DejaVu Serif","labelFontSize":21.5,"labelColor":"black","labelOffset":15,"padding":0}}}},
{"data":{"values":[{}]},"mark":{"type":"rule","color":"black","strokeWidth":2},"encoding":{"y":{"datum":27.5,"type":"quantitative"}}},
{"data":{"values":[{}]},"mark":{"type":"rule","color":"black","strokeWidth":2},"encoding":{"y":{"datum":207.5,"type":"quantitative"}}},
{"data":{"values":[{}]},"mark":{"type":"rule","color":"black","strokeWidth":1},"encoding":{"x":{"datum":38.3,"type":"quantitative"}}},
{"data":{"values":[{}]},"mark":{"type":"rule","color":"black","strokeWidth":2},"encoding":{"x":{"datum":112.5,"type":"quantitative"}}}
]}
],"spacing":4},
{"width":27,"height":550,"layer":[
{"data":{"name":"cbar"},"mark":{"type":"rect","strokeWidth":0.6},"encoding":{"y":{"field":"lo","type":"quantitative","scale":{"domain":[0.7435,4.19],"nice":false,"zero":false},"axis":{"orient":"right","title":null,"values":[0.9,1.22,1.54,1.86,2.18,2.5,2.82,3.14,3.46,3.78],"format":".2f","labelPadding":28,"labelOffset":1,"tickSize":-15,"zindex":1}},"y2":{"field":"hi"},"color":{"field":"lo","type":"quantitative","scale":{"scheme":"plasma","domain":[0.9,4.04],"clamp":true},"legend":null},"stroke":{"field":"lo","type":"quantitative","scale":{"scheme":"plasma","domain":[0.9,4.04],"clamp":true},"legend":null}}},
{"data":{"name":"tips"},"mark":{"type":"area","orient":"horizontal"},"encoding":{"x":{"field":"x","type":"quantitative","scale":{"domain":[0,1],"nice":false},"axis":null},"x2":{"field":"x2"},"y":{"field":"y","type":"quantitative"},"color":{"field":"E","type":"quantitative","legend":null}}},
{"data":{"name":"outline"},"mark":{"type":"line","color":"black","strokeWidth":2,"strokeJoin":"miter"},"encoding":{"x":{"field":"x","type":"quantitative"},"y":{"field":"y","type":"quantitative"},"order":{"field":"i","type":"ordinal"}}},
{"data":{"name":"cbarTicks"},"mark":{"type":"line","color":"black","strokeWidth":2},"encoding":{"x":{"field":"x","type":"quantitative"},"y":{"field":"y","type":"quantitative"},"detail":{"field":"tick"}}},
{"data":{"values":[{"x":5.3,"y":2.035,"label":"E"}]},"mark":{"type":"text","font":"DejaVu Serif","fontSize":38,"angle":270,"baseline":"alphabetic","align":"center","color":"black"},"encoding":{"x":{"field":"x","type":"quantitative"},"y":{"field":"y","type":"quantitative"},"text":{"field":"label"}}},
{"data":{"values":[{"x":5.5,"y":2.517,"label":"SiO₂ max"}]},"mark":{"type":"text","font":"DejaVu Sans","fontSize":27,"angle":270,"baseline":"alphabetic","align":"center","color":"black"},"encoding":{"x":{"field":"x","type":"quantitative"},"y":{"field":"y","type":"quantitative"},"text":{"field":"label"}}},
{"data":{"values":[{"x":5.3,"y":3.52,"label":"[MV/cm]"}]},"mark":{"type":"text","font":"DejaVu Serif","fontSize":38,"angle":270,"baseline":"alphabetic","align":"center","color":"black"},"encoding":{"x":{"field":"x","type":"quantitative"},"y":{"field":"y","type":"quantitative"},"text":{"field":"label"}}}
]}
],"spacing":35}
